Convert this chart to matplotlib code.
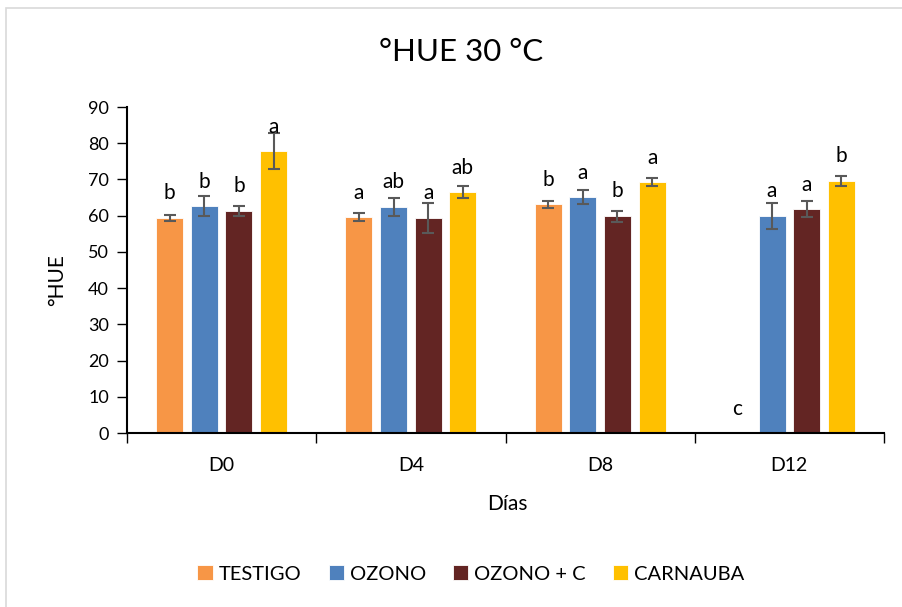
"""
°HUE at 30 °C: grouped bars by storage day and treatment,
with standard-error whiskers and significance letters.

Output: out.png
"""

import numpy as np
import matplotlib.pyplot as plt
from matplotlib.patches import Rectangle
from matplotlib.ticker import FixedLocator

plt.rcParams["font.family"] = ["Lato", "DejaVu Sans"]

# -------------------------------------------------------------------
# Data
# -------------------------------------------------------------------
days = ["D0", "D4", "D8", "D12"]
treatments = ["TESTIGO", "OZONO", "OZONO + C", "CARNAUBA"]

hue_mean = {
    "TESTIGO":   [59.4, 59.6, 63.1, 0.0],
    "OZONO":     [62.6, 62.4, 65.1, 59.9],
    "OZONO + C": [61.2, 59.3, 59.8, 61.8],
    "CARNAUBA":  [77.9, 66.5, 69.4, 69.6],
}
hue_err = {
    "TESTIGO":   [0.9, 1.1, 1.0, 0.0],
    "OZONO":     [2.8, 2.6, 2.0, 3.5],
    "OZONO + C": [1.4, 4.2, 1.5, 2.3],
    "CARNAUBA":  [5.0, 1.6, 1.1, 1.3],
}
letters = {
    "TESTIGO":   ["b", "a", "b", "c"],
    "OZONO":     ["b", "ab", "a", "a"],
    "OZONO + C": ["b", "a", "b", "a"],
    "CARNAUBA":  ["a", "ab", "a", "b"],
}
# height (in °HUE units) at which each letter is centred
letter_y = {
    "TESTIGO":   [66.3, 66.2, 69.8, 6.6],
    "OZONO":     [69.4, 69.4, 71.9, 66.7],
    "OZONO + C": [68.2, 66.2, 66.7, 68.5],
    "CARNAUBA":  [84.6, 73.1, 76.0, 76.5],
}

colors = ["#F79646", "#4F81BD", "#632523", "#FFC000"]

# -------------------------------------------------------------------
# Plotting
# -------------------------------------------------------------------
fig = plt.figure(figsize=(9.02, 6.07), dpi=100)
ax = fig.add_axes([127 / 902, 1 - 433 / 607, (884 - 127) / 902, (433 - 107) / 607])

x = np.arange(len(days))
step = 0.183
width = 0.143

for i, (name, col) in enumerate(zip(treatments, colors)):
    pos = x + (i - 1.5) * step
    means = np.array(hue_mean[name])
    errs = np.array(hue_err[name])
    has_bar = means > 0
    ax.bar(pos, means, width=width, color=col, edgecolor="white",
           linewidth=0.6, label=name, zorder=2)
    ax.errorbar(pos[has_bar], means[has_bar], yerr=errs[has_bar], fmt="none",
                ecolor="#595959", elinewidth=1.5, capsize=4.5, capthick=1.5,
                zorder=3)
    for px, ly, lt in zip(pos, letter_y[name], letters[name]):
        ax.text(px, ly, lt, ha="center", va="center", fontsize=15,
                color="#000000")

# Axes formatting
ax.set_xlim(-0.5, len(days) - 0.5)
ax.set_ylim(0, 90)
ax.set_yticks(np.arange(0, 91, 10))
ax.tick_params(axis="y", direction="out", length=7, width=1,
               labelsize=13, pad=6, color="#000000")

ax.xaxis.set_major_locator(FixedLocator(np.arange(-0.5, len(days), 1.0)))
ax.xaxis.set_minor_locator(FixedLocator(x))
ax.set_xticklabels([], minor=False)
ax.set_xticklabels(days, minor=True)
ax.tick_params(axis="x", which="major", direction="out", length=7, width=1)
ax.tick_params(axis="x", which="minor", length=0, labelsize=14, pad=17)

for side in ["top", "right"]:
    ax.spines[side].set_visible(False)
for side in ["left", "bottom"]:
    ax.spines[side].set_linewidth(1.5)
    ax.spines[side].set_color("#000000")

fig.text(0.511, 1 - 52 / 607, "°HUE 30 °C", ha="center", va="center",
         fontsize=22.5)
fig.text(507 / 902, 1 - 504 / 607, "Días", ha="center", va="center",
         fontsize=15)
fig.text(57 / 902, 1 - 280 / 607, "°HUE", ha="center", va="center",
         fontsize=15, rotation=90)

fig.legend(loc="center", bbox_to_anchor=(471 / 902, 1 - 574 / 607), ncol=4,
           frameon=False, fontsize=14.5, handlelength=0.75, handleheight=0.75,
           handletextpad=0.3, columnspacing=1.35)

# light chart-area border
fig.add_artist(Rectangle((6 / 902, -0.05), 1.0, 1.05 - 8 / 607,
                         transform=fig.transFigure, fill=False,
                         edgecolor="#D9D9D9", linewidth=1.2))

fig.savefig("out.png", dpi=100)
plt.close(fig)
